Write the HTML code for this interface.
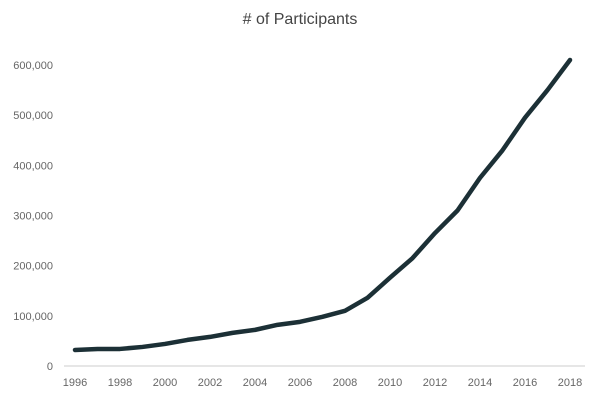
<!DOCTYPE html>
<html><head><meta charset="utf-8"><style>
body{margin:0;background:#fff;}
svg{display:block;font-family:"Liberation Sans",sans-serif;}
</style></head><body>
<svg id="chart" width="600" height="402">
<text x="300" y="24" text-anchor="middle" font-size="16" fill="#444"># of Participants</text>
<g id="axes"></g>
<path id="series" fill="none" stroke="#1c3036" stroke-width="4.5" stroke-linejoin="round" stroke-linecap="round"></path>
</svg>
<script>
const years=[1996,1997,1998,1999,2000,2001,2002,2003,2004,2005,2006,2007,2008,2009,2010,2011,2012,2013,2014,2015,2016,2017,2018];
const participants=[32000,34000,34000,38000,44000,52000,58000,66000,72000,82000,88000,98000,110000,136000,176000,215000,265000,310000,375000,430000,495000,550000,610000];
const yTicks=[0,100000,200000,300000,400000,500000,600000];
const xTicks=[1996,1998,2000,2002,2004,2006,2008,2010,2012,2014,2016,2018];
const ns="http://www.w3.org/2000/svg";
const x=v=>75+(v-1996)*(570-75)/22;
const y=v=>366-v*(366-65)/600000;
const g=document.getElementById('axes');
function el(t,a,txt){const e=document.createElementNS(ns,t);for(const k in a)e.setAttribute(k,a[k]);if(txt!=null)e.textContent=txt;g.appendChild(e);return e;}
const base=el('line',{x1:64,x2:585,y1:366,y2:366,stroke:'#ccc','stroke-width':1});


yTicks.forEach(v=>{const t=el('text',{x:53,y:y(v)+4,'text-anchor':'end','font-size':11,fill:'#666'},v.toLocaleString('en-US'));

});
xTicks.forEach(v=>{const t=el('text',{x:x(v),y:386,'text-anchor':'middle','font-size':11,fill:'#666'},String(v));

});
document.getElementById('series').setAttribute('d',years.map((yr,i)=>(i?'L':'M')+x(yr)+','+y(participants[i])).join(''));
</script>
</body></html>
